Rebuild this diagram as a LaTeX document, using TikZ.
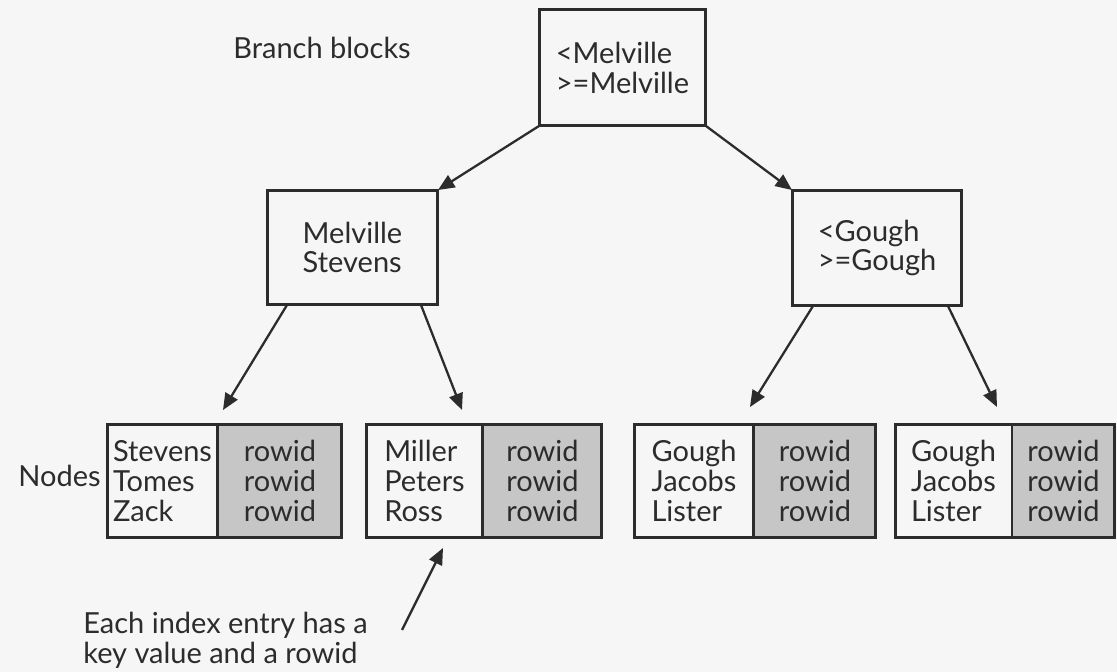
\documentclass[tikz,border=0pt]{standalone}
\usepackage{fontspec}
\setmainfont{Lato}
\usetikzlibrary{positioning,arrows.meta}
\definecolor{ink}{HTML}{2C2C2C}
\definecolor{cellgray}{HTML}{C6C6C6}
\definecolor{paper}{HTML}{F6F6F6}
\tikzstyle{every node}=[text=ink,font=\fontsize{16.5}{17}\selectfont]
\tikzstyle{block}=[draw=ink,line width=1.7pt,outer sep=0pt,align=left]
\tikzstyle{keycell}=[block,minimum height=2.28cm]
\tikzstyle{ridcell}=[keycell,fill=cellgray,align=center]
\tikzstyle{arr}=[draw=ink,line width=1.3pt,-{Triangle[length=0.33cm,width=0.28cm]}]

\begin{document}
\begin{tikzpicture}[x=0.02cm,y=-0.02cm]
\fill[paper] (0,0) rectangle (1117,672);
\useasboundingbox (0,0) rectangle (1117,672);
% branch blocks
\node[block,minimum width=3.34cm,minimum height=2.34cm] (root) at (622.5,67.5) {<Melville\\>=Melville};
\node[block,minimum width=3.42cm,minimum height=2.3cm] (lb) at (352.5,247.5) {Melville\\Stevens};
\node[block,minimum width=3.4cm,minimum height=2.32cm] (rb) at (877,248) {<Gough\\>=Gough};
% leaf nodes
\node[keycell,minimum width=2.22cm] (k1) at (162.5,481) {Stevens\\Tomes\\Zack};
\node[ridcell,minimum width=2.48cm,right=0pt of k1] (r1) {rowid\\rowid\\rowid};
\node[keycell,minimum width=2.34cm] (k2) at (424.5,481) {Miller\\Peters\\Ross};
\node[ridcell,minimum width=2.38cm,right=0pt of k2] (r2) {rowid\\rowid\\rowid};
\node[keycell,minimum width=2.4cm] (k3) at (694,481) {Gough\\Jacobs\\Lister};
\node[ridcell,minimum width=2.44cm,right=0pt of k3] (r3) {rowid\\rowid\\rowid};
\node[keycell,minimum width=2.34cm] (k4) at (953.5,481) {Gough\\Jacobs\\Lister};
\node[ridcell,minimum width=2.06cm,right=0pt of k4] (r4) {rowid\\rowid\\rowid};
% labels
\node[anchor=west,inner sep=0pt] (blab) at (233,48) {Branch blocks};
\node[anchor=east,inner sep=0pt] (nlab) at (101,476) {Nodes};
\node[anchor=west,inner sep=0pt,align=left] (note) at (83,640) {Each index entry has a\\key value and a rowid};
\coordinate (tail) at (402,630);
% arrows
\draw[arr] (root.south west)--(lb.north east);
\draw[arr] (root.south east)--(rb.north west);
\draw[arr] ([xshift=0.4cm]lb.south west)--([xshift=0.1cm,yshift=0.28cm]k1.north east);
\draw[arr] ([xshift=-0.34cm]lb.south east)--([xshift=0.75cm,yshift=0.28cm]k2.north);
\draw[arr] ([xshift=0.42cm]rb.south west)--([xshift=-0.08cm,yshift=0.34cm]k3.north east);
\draw[arr] ([xshift=-0.28cm]rb.south east)--([xshift=-0.3cm,yshift=0.34cm]k4.north east);
\draw[arr] (tail)--([xshift=-0.8cm,yshift=-0.2cm]k2.south east);
\end{tikzpicture}
\end{document}
